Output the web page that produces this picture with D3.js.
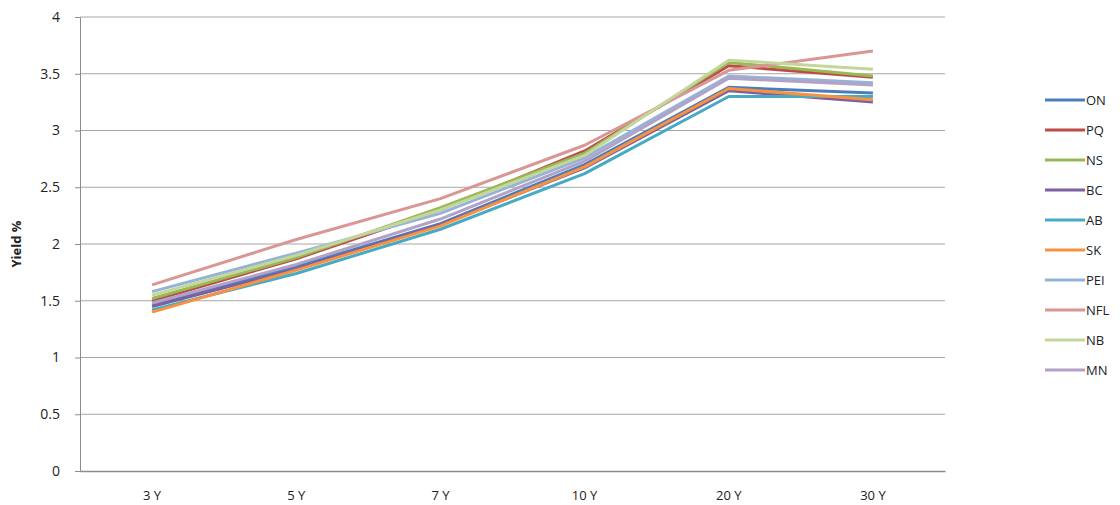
<!DOCTYPE html>
<html><head><meta charset="utf-8">
<script src="https://cdn.jsdelivr.net/npm/d3@7"></script>
<style>body{margin:0;background:#fff;} text{font-family:"Open Sans",sans-serif;}</style>
</head><body><svg id="c" width="1120" height="505"></svg>
<script>
const categories = ["3 Y","5 Y","7 Y","10 Y","20 Y","30 Y"];
const seriesNames = ["ON","PQ","NS","BC","AB","SK","PEI","NFL","NB","MN"];
const seriesColors = ["#4a7ebb","#be4b48","#98b954","#7d60a0","#46aac5","#f69240","#95b3d7","#d99694","#c3d69b","#b3a2c7"];
const ON  = [1.46, 1.80, 2.18, 2.70, 3.38, 3.33];
const PQ  = [1.50, 1.87, 2.30, 2.82, 3.57, 3.47];
const NS  = [1.52, 1.88, 2.32, 2.80, 3.60, 3.48];
const BC  = [1.45, 1.78, 2.17, 2.67, 3.35, 3.25];
const AB  = [1.42, 1.74, 2.13, 2.62, 3.30, 3.30];
const SK  = [1.40, 1.77, 2.16, 2.68, 3.37, 3.27];
const PEI = [1.58, 1.92, 2.27, 2.76, 3.48, 3.42];
const NFL = [1.64, 2.04, 2.40, 2.87, 3.53, 3.70];
const NB  = [1.55, 1.90, 2.30, 2.78, 3.62, 3.54];
const MN  = [1.48, 1.82, 2.22, 2.73, 3.46, 3.40];
const yTicks = [0,0.5,1,1.5,2,2.5,3,3.5,4];
const yLabel = "Yield %";

const values = [ON,PQ,NS,BC,AB,SK,PEI,NFL,NB,MN];
const svg = d3.select("#c");
const mLeft = 80, mRight = 945, mTop = 17, mBottom = 471;
const x = d3.scaleBand().domain(categories).range([mLeft, mRight]);
const y = d3.scaleLinear().domain([0,4]).range([mBottom, mTop]);

// gridlines
svg.append("g").selectAll("line").data(yTicks.filter(t=>t>0)).join("line")
  .attr("x1", mLeft).attr("x2", mRight).attr("y1", d=>y(d)).attr("y2", d=>y(d))
  .attr("stroke", "#a6a6a6").attr("stroke-width", 1);

// y axis
const ya = svg.append("g").attr("transform", `translate(${mLeft},0)`)
  .call(d3.axisLeft(y).tickValues(yTicks).tickSize(5).tickPadding(15).tickFormat(d=>String(d)));
ya.select(".domain").attr("stroke", "#8c8c8c");
ya.selectAll(".tick line").attr("stroke", "#8c8c8c");
ya.selectAll("text").attr("font-size", 14).attr("fill", "#222").attr("font-family", "'Open Sans',sans-serif");

// x axis
const xa = svg.append("g").attr("transform", `translate(0,${mBottom})`)
  .call(d3.axisBottom(x).tickSize(0).tickPadding(20));
xa.select(".domain").attr("stroke", "#8c8c8c").attr("stroke-width", 1.5);
xa.selectAll("text").attr("font-size", 13).attr("fill", "#222").attr("font-family", "'Open Sans',sans-serif");

svg.append("text").attr("transform", `translate(21,${(mTop+mBottom)/2}) rotate(-90)`)
  .attr("text-anchor", "middle").attr("font-size", 13).attr("font-weight", "bold").attr("fill", "#222").text(yLabel);

const line = d3.line().x((d,i)=>x(categories[i]) + x.bandwidth()/2).y(d=>y(d));
svg.append("g").selectAll("path").data(values).join("path")
  .attr("d", d=>line(d)).attr("fill", "none")
  .attr("stroke", (d,i)=>seriesColors[i]).attr("stroke-width", 3).attr("stroke-linejoin", "round");

// legend
const lg = svg.append("g").selectAll("g").data(seriesNames).join("g")
  .attr("transform", (d,i)=>`translate(1045,${100 + i*30})`);
lg.append("line").attr("x1", 0).attr("x2", 40).attr("stroke", (d,i)=>seriesColors[i]).attr("stroke-width", 3);
lg.append("text").attr("x", 41).attr("dy", "0.35em").attr("font-size", 13).attr("fill", "#222").text(d=>d);
</script></body></html>
